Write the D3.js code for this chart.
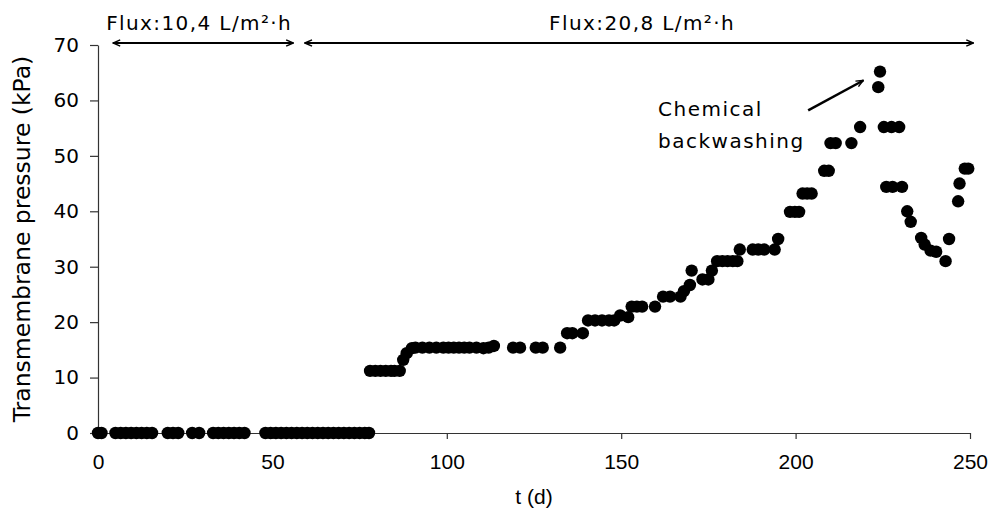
<!DOCTYPE html>
<html>
<head>
<meta charset="utf-8">
<script src="https://cdn.jsdelivr.net/npm/d3@7"></script>
<style>
  body { margin: 0; background: #fff; }
  svg { display: block; }
</style>
</head>
<body>
<script>

// days of operation and measured transmembrane pressure (kPa)
var days = [
  0, 1, 5, 6.5, 8, 9.5, 11, 12.5, 14, 15.5, 20, 21.5, 23, 27, 29, 33, 34.5, 36, 37.5, 39, 40.5, 42,
  48, 49.5, 51, 52.5, 54, 55.5, 57, 58.5, 60, 61.5, 63, 64.5, 66, 67.5, 69, 70.5, 72, 73.5, 75, 76.5, 77.7,
  78, 79.5, 81, 82.5, 84, 85, 86.5, 87.5, 88.5, 90,
  91, 93, 95, 97, 99, 100.5, 102, 103.5, 105, 106.5, 108.5, 110.5, 112, 113.5, 119, 121, 125.5, 127.5, 132.5,
  134.5, 136, 139, 140.5, 142.5, 144.5, 146.5, 148, 149.7, 152, 153, 154.5, 156, 159.7,
  162, 164, 167, 168, 169.7, 170.2, 173.3, 175, 176, 177.5, 179, 180.5, 182, 183.3,
  184, 187.7, 189.3, 191, 194, 195, 198.4, 199.8, 201, 202, 203.3, 204.6, 208.2, 209.5,
  210, 211.5, 216, 218.5, 223.7, 224.2, 225.3, 227.5, 229.7, 226, 227.8, 230.5,
  232, 233, 236, 237, 238.7, 240.3, 243, 244, 246.6, 247, 248.5, 249.5
];

var pressure = [
  0, 0, 0, 0, 0, 0, 0, 0, 0, 0, 0, 0, 0, 0, 0, 0, 0, 0, 0, 0, 0, 0,
  0, 0, 0, 0, 0, 0, 0, 0, 0, 0, 0, 0, 0, 0, 0, 0, 0, 0, 0, 0, 0,
  11.2, 11.2, 11.2, 11.2, 11.2, 11.2, 11.2, 13.2, 14.4, 15.3,
  15.4, 15.4, 15.4, 15.4, 15.4, 15.4, 15.4, 15.4, 15.4, 15.4, 15.4, 15.3, 15.4, 15.7, 15.4, 15.4, 15.4, 15.4, 15.4,
  18.0, 18.0, 18.0, 20.3, 20.3, 20.3, 20.3, 20.3, 21.2, 20.9, 22.8, 22.8, 22.8, 22.8,
  24.6, 24.6, 24.6, 25.6, 26.7, 29.3, 27.7, 27.7, 29.3, 31.0, 31.0, 31.0, 31.0, 31.0,
  33.1, 33.1, 33.1, 33.1, 33.1, 35.0, 39.9, 39.9, 39.9, 43.2, 43.2, 43.2, 47.3, 47.3,
  52.3, 52.3, 52.3, 55.2, 62.4, 65.2, 55.2, 55.2, 55.2, 44.4, 44.4, 44.4,
  40.0, 38.1, 35.2, 34.0, 32.9, 32.7, 31.0, 35.0, 41.8, 45.0, 47.7, 47.7
];

var xTicks = [0, 50, 100, 150, 200, 250];
var yTicks = [0, 10, 20, 30, 40, 50, 60, 70];

// flux periods drawn as double arrows above the plot (in days)
var fluxLabels = ["Flux:10,4 L/m\u00b2\u00b7h", "Flux:20,8 L/m\u00b2\u00b7h"];
var fluxStart = [4.3, 59.3];
var fluxEnd = [56, 251];
var fluxLabelAt = [29, 156];

window.onload = function() {drawchart()};

function drawchart() {

  var width = 989,
      height = 517,
      margin = {top: 45, right: 19, bottom: 84, left: 98},
      w = width - margin.left - margin.right,
      h = height - margin.top - margin.bottom;

  var points = days.map(function(d, i) { return [d, pressure[i]]; });

  var xScale = d3.scaleLinear()
                 .domain([0, 250])
                 .range([0, w]);

  var yScale = d3.scaleLinear()
                 .domain([0, 70])
                 .range([h, 0]);

  var svg = d3.select("body")
              .append("svg")
              .attr("width", width)
              .attr("height", height)
              .style("background", "#fff");

  // arrow heads
  var defs = svg.append("defs");
  defs.append("marker")
      .attr("id", "head")
      .attr("markerUnits", "userSpaceOnUse")
      .attr("viewBox", "0 0 10 10")
      .attr("refX", 9)
      .attr("refY", 5)
      .attr("markerWidth", 9)
      .attr("markerHeight", 9)
      .attr("orient", "auto-start-reverse")
    .append("path")
      .attr("d", "M1,1.5 L9,5 L1,8.5")
      .attr("fill", "none")
      .attr("stroke", "#000")
      .attr("stroke-width", 1.6);

  var g = svg.append("g")
             .attr("transform", "translate(" + margin.left + "," + margin.top + ")");

  // x axis
  var xAxis = g.append("g")
     .attr("class", "x axis")
     .attr("transform", "translate(0," + h + ")")
     .call(d3.axisBottom(xScale).tickValues(xTicks).tickSize(6).tickSizeOuter(0).tickPadding(15));

  xAxis.selectAll("text")
       .style("font-family", "'Liberation Sans', Arial, sans-serif")
       .style("font-size", "21px")
       .style("fill", "#000");

  // y axis
  var yAxis = g.append("g")
     .attr("class", "y axis")
     .call(d3.axisLeft(yScale).tickValues(yTicks).tickSize(8).tickSizeOuter(0).tickPadding(11));

  yAxis.selectAll("text")
       .style("font-family", "'DejaVu Sans', Verdana, sans-serif")
       .style("font-size", "20px")
       .style("fill", "#000");

  svg.selectAll(".axis path, .axis line")
     .attr("stroke", "#333")
     .attr("stroke-width", 1.2);

  // axis titles
  g.append("text")
   .attr("x", w / 2)
   .attr("y", h + 71)
   .attr("text-anchor", "middle")
   .style("font-family", "'Liberation Sans', Arial, sans-serif")
   .style("font-size", "21px")
   .text("t (d)");

  svg.append("text")
     .attr("transform", "translate(30," + (margin.top + h / 2) + ") rotate(-90)")
     .attr("text-anchor", "middle")
     .style("font-family", "'DejaVu Sans', Verdana, sans-serif")
     .style("font-size", "23.5px")
     .text("Transmembrane pressure (kPa)");

  // data points
  g.selectAll("circle")
   .data(points)
   .enter()
   .append("circle")
   .attr("cx", function(d) { return xScale(d[0]); })
   .attr("cy", function(d) { return yScale(d[1]); })
   .attr("r", 6.2)
   .attr("fill", "#000");

  // flux periods
  fluxLabels.forEach(function(label, i) {
    g.append("line")
     .attr("x1", xScale(fluxStart[i]))
     .attr("x2", xScale(fluxEnd[i]))
     .attr("y1", -2)
     .attr("y2", -2)
     .attr("stroke", "#000")
     .attr("stroke-width", 2)
     .attr("marker-start", "url(#head)")
     .attr("marker-end", "url(#head)");

    g.append("text")
     .attr("x", xScale(fluxLabelAt[i]))
     .attr("y", -15)
     .attr("text-anchor", "middle")
     .style("font-family", "'DejaVu Sans', Verdana, sans-serif")
     .style("font-size", "20px")
     .style("letter-spacing", "1.4px")
     .text(label);
  });

  // chemical backwashing note
  var note = g.append("text")
              .attr("x", 560)
              .attr("y", 71)
              .style("font-family", "'DejaVu Sans', Verdana, sans-serif")
              .style("font-size", "20px")
              .style("letter-spacing", "1.5px");
  note.append("tspan").attr("x", 560).attr("dy", 0).text("Chemical");
  note.append("tspan").attr("x", 560).attr("dy", 32).text("backwashing");

  g.append("line")
   .attr("x1", xScale(203.6))
   .attr("y1", yScale(58.2))
   .attr("x2", xScale(219.4))
   .attr("y2", yScale(63.6))
   .attr("stroke", "#000")
   .attr("stroke-width", 2.5)
   .attr("marker-end", "url(#head)");
}

</script>
</body>
</html>
